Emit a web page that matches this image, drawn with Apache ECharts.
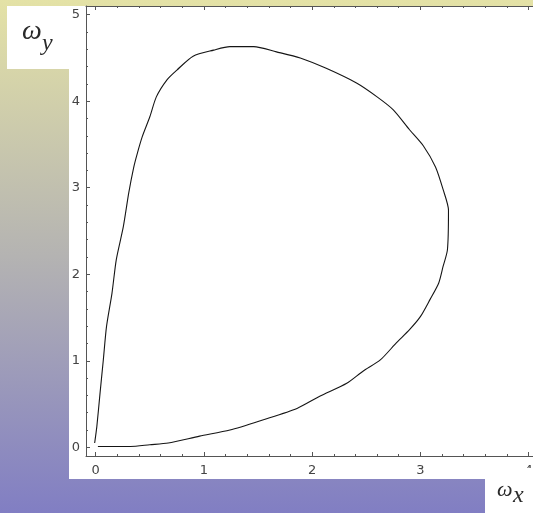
<!DOCTYPE html>
<html>
<head>
<meta charset="utf-8">
<script src="https://cdn.jsdelivr.net/npm/echarts@6/dist/echarts.min.js"></script>
<style>
  html, body { margin: 0; padding: 0; width: 533px; height: 513px; overflow: hidden; }
  #wrap {
    position: relative; width: 533px; height: 513px;
    background: linear-gradient(to bottom, #e4e2a6 0%, #b4b3b2 50%, #817ec3 100%);
  }
  .panel { position: absolute; background: #ffffff; }
  #chart { position: absolute; left: 0; top: 0; width: 533px; height: 513px; }
</style>
</head>
<body>
<div id="wrap">
  <div class="panel" style="left:69px; top:6px; width:464px; height:473px;"></div>
  <div class="panel" style="left:7px; top:6px; width:62px; height:63px;"></div>
  <div class="panel" style="left:485px; top:478px; width:48px; height:35px;"></div>
  <div id="chart"></div>
</div>
<script>
// Boundary of the (omega_x, omega_y) region, traced counter-clockwise from the origin
const omegaX = [
  0.02, 0.32, 0.50, 0.67, 0.96, 1.24, 1.55, 1.86, 2.07, 2.32, 2.47, 2.63, 2.78, 2.90,
  3.00, 3.09, 3.17, 3.21, 3.25, 3.26, 3.21, 3.14, 3.03, 2.90, 2.75, 2.60, 2.41, 2.13,
  1.89, 1.67, 1.46, 1.24, 1.09, 0.90, 0.75, 0.66, 0.56, 0.50, 0.43, 0.385, 0.35, 0.305,
  0.255, 0.19, 0.15, 0.10, 0.07, 0.04, 0.01, -0.01
];
const omegaY = [
  0.01, 0.01, 0.03, 0.05, 0.13, 0.20, 0.32, 0.45, 0.59, 0.74, 0.88, 1.01, 1.21, 1.36,
  1.51, 1.71, 1.90, 2.09, 2.28, 2.74, 2.98, 3.24, 3.48, 3.67, 3.90, 4.05, 4.21, 4.38,
  4.50, 4.57, 4.63, 4.63, 4.59, 4.52, 4.36, 4.25, 4.05, 3.82, 3.59, 3.40, 3.23, 2.94,
  2.55, 2.17, 1.78, 1.40, 1.01, 0.63, 0.24, 0.05
];

// Tick values
const xMajorTicks = [0, 1, 2, 3, 4];
const yMajorTicks = [0, 1, 2, 3, 4, 5];
const xRange = [-0.09, 4.2];
const yRange = [-0.1, 5.1];
const minorStep = 0.2;

function minorTicks(range, step) {
  const out = [];
  const n0 = Math.ceil(range[0] / step), n1 = Math.floor(range[1] / step);
  for (let n = n0; n <= n1; n++) {
    const v = Math.round(n * step * 10) / 10;
    if (Math.abs(v - Math.round(v)) > 1e-9) out.push(v);
  }
  return out;
}
const xMinorTicks = minorTicks(xRange, minorStep);
const yMinorTicks = minorTicks(yRange, minorStep);

const frameColor = '#555555';
const labelStyle = { color: '#444444', fontSize: 13, fontFamily: 'DejaVu Sans' };

function frameAxis(position, range, ticks, tickLen, showLine, labels, margin) {
  return {
    type: 'value',
    position: position,
    min: range[0],
    max: range[1],
    axisLine: { show: showLine, onZero: false, lineStyle: { color: frameColor, width: 1 } },
    axisTick: { show: true, inside: true, length: tickLen, customValues: ticks,
                lineStyle: { color: frameColor, width: 1 } },
    axisLabel: labels
      ? Object.assign({ show: true, customValues: labels, margin: margin }, labelStyle)
      : { show: false },
    splitLine: { show: false },
    minorTick: { show: false }
  };
}

function mathText(x, y, text, size) {
  return {
    type: 'text', z: 51, x: x, y: y,
    style: { text: text, font: 'italic ' + size + 'px "Liberation Serif"', fill: '#2a2a2a',
             textAlign: 'left', textVerticalAlign: 'middle', align: 'left', verticalAlign: 'middle' }
  };
}

const chart = echarts.init(document.getElementById('chart'), null, { renderer: 'canvas' });
chart.setOption({
  animation: false,
  backgroundColor: 'transparent',
  grid: { left: 86, top: 6, right: -17.2, bottom: 57, containLabel: false, outerBoundsMode: 'none' },
  xAxis: [
    frameAxis('bottom', xRange, xMajorTicks, 4, true, xMajorTicks, 8),
    frameAxis('bottom', xRange, xMinorTicks, 2, false, null),
    frameAxis('top', xRange, xMajorTicks, 4, true, null),
    frameAxis('top', xRange, xMinorTicks, 2, false, null)
  ],
  yAxis: [
    frameAxis('left', yRange, yMajorTicks, 4, true, yMajorTicks, 6),
    frameAxis('left', yRange, yMinorTicks, 2, false, null)
  ],
  series: [{
    type: 'line',
    xAxisIndex: 0,
    yAxisIndex: 0,
    data: omegaX.map((x, i) => [x, omegaY[i]]),
    showSymbol: false,
    symbol: 'none',
    smooth: 0.25,
    lineStyle: { color: '#151515', width: 1.1 }
  }],
  graphic: [
    // keeps the lower part of the edge "4" hidden behind the omega_x panel
    { type: 'rect', z: 50, shape: { x: 485, y: 468, width: 48, height: 45 }, style: { fill: '#ffffff' } },
    mathText(22, 32, 'ω', 28),
    mathText(42, 44, 'y', 24),
    mathText(497, 490, 'ω', 22),
    mathText(513, 496, 'x', 24)
  ]
});
</script>
</body>
</html>
